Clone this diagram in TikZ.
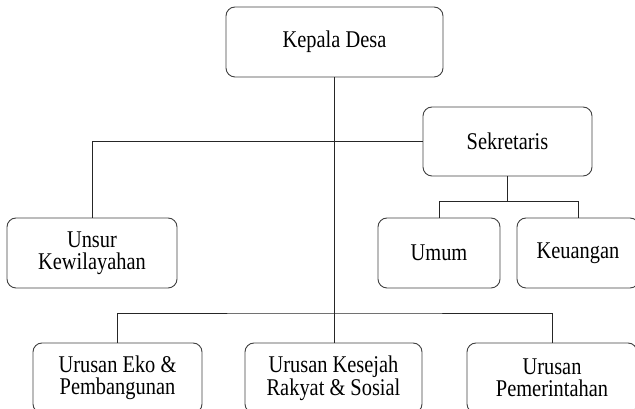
\documentclass[tikz,border=0pt]{standalone}
\usepackage{fontspec}
\setmainfont[FakeStretch=0.85]{Liberation Serif}

\begin{document}
\begin{tikzpicture}[x=1pt, y=1pt, line width=.9pt,
  jabatan/.style={draw=black!75, rounded corners=9pt, align=center,
    minimum height=70pt, inner sep=0pt, font=\fontsize{24}{21.5}\selectfont},
  garis/.style={draw=black!85}]
  \useasboundingbox (0,0) rectangle (635,409);
  % kotak jabatan
  \path (334.5,367) node[jabatan, minimum width=217pt] (kepala) {Kepala Desa};
  \path (507.5,267.5) node[jabatan, minimum width=169pt, minimum height=69pt] (sekretaris) {Sekretaris};
  \path (92,156) node[jabatan, minimum width=170pt] (unsur) {Unsur\\Kewilayahan};
  \path (439,156) node[jabatan, minimum width=122pt] (umum) {Umum};
  \path (578,156) node[jabatan, minimum width=122pt] (keuangan) {Keuangan};
  \path (117.5,31) node[jabatan, minimum width=169pt] (eko) {Urusan Eko \&\\Pembangunan};
  \path (333.5,31) node[jabatan, minimum width=177pt] (kesejah) {Urusan Kesejah\\Rakyat \& Sosial};
  \path (552,31) node[jabatan, minimum width=170pt] (pemerintahan) {Urusan\\Pemerintahan};
  % garis
  \coordinate (bussek) at ([yshift=-25pt]sekretaris.south);
  \coordinate (busbawah) at (kepala.south |- 0,96);
  \draw[garis] (kepala.south) -- (kepala.south |- kesejah.north);
  \draw[garis] (sekretaris.west) -| (unsur.north);
  \draw[garis] (sekretaris.south) -- (bussek);
  \draw[garis] (umum.north) |- (bussek) -| (keuangan.north);
  \draw[garis] (eko.north) |- (busbawah) -| (pemerintahan.north);
\end{tikzpicture}
\end{document}
